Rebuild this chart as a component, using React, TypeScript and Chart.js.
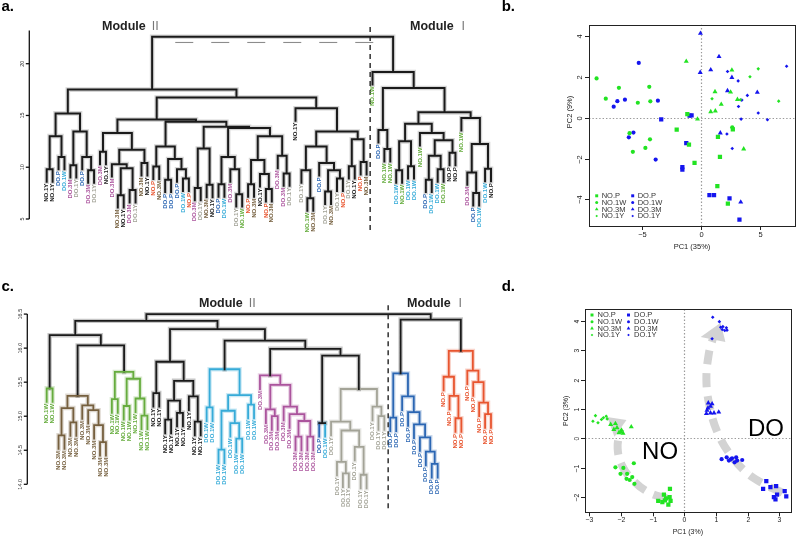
import React, { useEffect, useRef } from 'react';
import { Chart, registerables } from 'chart.js';

Chart.register(...registerables);

const FONT = '"Liberation Sans", Arial, Helvetica, sans-serif';
const CJK_FONT = '"Noto Sans CJK SC", "Noto Sans CJK JP", "DejaVu Sans", sans-serif';

type Tree = number | [number, Tree, Tree];
type Pt = [number, number];

// ---------------- shared colours ----------------
const LINE_BLACK = '#1a1a1a';
const groupColors: Record<string, string> = {
  'NO.P': '#e8552f',
  'NO.1W': '#66ac3e',
  'NO.3M': '#76603f',
  'NO.1Y': '#1a1a1a',
  'DO.P': '#2b66b3',
  'DO.1W': '#36abd8',
  'DO.3M': '#ab549d',
  'DO.1Y': '#a3a397',
};
const PCA_GREEN = '#22e322';
const PCA_BLUE = '#1515ee';
const ARROW_GRAY = '#d3d3d3';

// ---------------- panel a : dendrogram ----------------
const aLabels: string[] = [
  'NO.1Y', 'NO.1Y', 'DO.P', 'DO.1W', 'DO.3M', 'DO.1Y', 'DO.P', 'DO.3M', 'DO.1Y', 'DO.3M',
  'NO.1Y', 'DO.3M', 'NO.3M', 'NO.1Y', 'DO.3M', 'DO.1Y', 'NO.3M', 'NO.1Y', 'NO.P', 'NO.3M',
  'DO.P', 'DO.P', 'DO.P', 'DO.1W', 'NO.P', 'DO.3M', 'DO.1Y', 'NO.3M', 'NO.1Y', 'DO.P',
  'DO.1W', 'DO.3M', 'DO.1Y', 'NO.1W', 'NO.P', 'NO.3M', 'NO.1Y', 'NO.P', 'NO.3M', 'DO.3M',
  'DO.3M', 'DO.1Y', 'NO.1Y', 'DO.1Y', 'NO.1W', 'NO.3M', 'DO.P', 'DO.1Y', 'NO.3M', 'DO.1Y',
  'NO.P', 'DO.1Y', 'NO.1Y', 'NO.P', 'NO.3M',
  'NO.1W', 'DO.P', 'NO.1W', 'NO.1W', 'DO.1W', 'NO.1W', 'DO.1W', 'DO.1W', 'NO.1W', 'DO.P',
  'DO.1W', 'DO.1W', 'DO.1W', 'NO.P', 'NO.P', 'NO.1W', 'DO.3M', 'DO.P', 'DO.1W', 'DO.1W', 'NO.P',
];
const aLabelOverride: Record<number, string> = { 67: '#66ac3e', 68: '#1a1a1a', 69: '#1a1a1a', 75: '#1a1a1a' };

const aClusterL: Tree = [15.2, [13.0, [9.8, 0, 1], [11.0, 2, 3]], [13.45, [10.2, 4, 5], [11.0, 6, [9.7, 7, 8]]]];
const aClusterB: Tree = [13.3, [11.5, 9, 10], [11.7, [10.3, 11, [9.9, [7.3, 12, 13], [7.8, 14, 15]]], [10.4, 16, 17]]];
const aClusterD: Tree = [12.0, [10.06, 18, 19], [10.8, [8.8, 20, 21], [9.8, 22, [8.9, 23, 24]]]];
const aClusterE: Tree = [13.9, [11.8, [8.0, 25, 26], [8.3, 27, 28]], [13.8, [11.0, [8.35, 29, 30], [9.8, 31, [7.4, 32, 33]]], [13.0, [10.7, [8.35, 34, 35], [9.35, 36, [7.9, 37, 38]]], [11.1, 39, [9.4, 40, 41]]]]];
const aClusterR: Tree = [15.7, 42, [13.45, [12.0, [9.7, 43, [7.0, 44, 45]], [10.4, 46, [9.7, [7.65, 47, 48], [8.9, 49, 50]]]], [12.7, [10.1, 51, 52], [10.5, 53, 54]]]];
const aModuleII: Tree = [17.5, aClusterL, [16.74, [14.6, aClusterB, [14.4, aClusterD, aClusterE]], aClusterR]];
const aModIa: Tree = [14.2, [12.5, [9.7, 59, 60], [10.1, 61, 62]], [13.3, 63, [12.6, [11.1, [8.8, 64, 65], [9.8, 66, 67]], [11.4, 68, 69]]]];
const aModIb: Tree = [14.75, 70, [12.25, [9.5, 71, [7.5, 72, 73]], [9.85, 74, 75]]];
const aModuleI: Tree = [19.2, 55, [17.65, [13.6, 56, [11.75, 57, 58]], [15.3, aModIa, aModIb]]];
const aRootHeight = 22.6;
const aTicks = [5, 10, 15, 20];
const aCutHeight = 22.05;

// ---------------- panel c : dendrogram ----------------
const cLabels: string[] = [
  'NO.1W', 'NO.1W',
  'NO.3M', 'NO.3M', 'NO.3M', 'NO.3M', 'NO.3M', 'NO.3M', 'NO.3M', 'NO.3M', 'NO.3M',
  'NO.1W', 'NO.1W', 'NO.1W', 'NO.1W', 'NO.1W', 'NO.1W', 'NO.1W',
  'NO.1Y', 'NO.1Y', 'NO.1Y', 'NO.1Y', 'NO.1Y', 'NO.1Y', 'NO.1Y', 'NO.1Y', 'NO.1Y',
  'DO.1W', 'DO.1W', 'DO.1W', 'DO.1W', 'DO.1W', 'DO.1W', 'DO.1W', 'DO.1W', 'DO.1W',
  'DO.3M', 'DO.3M', 'DO.3M', 'DO.3M', 'DO.3M', 'DO.3M', 'DO.3M', 'DO.3M', 'DO.3M', 'DO.3M',
  'DO.P', 'DO.1W',
  'DO.1Y', 'DO.1Y', 'DO.1Y', 'DO.1Y', 'DO.1Y', 'DO.1Y', 'DO.1Y', 'DO.1Y', 'DO.1Y', 'DO.1Y',
  'DO.P', 'DO.P', 'DO.P', 'DO.P', 'DO.P', 'DO.P', 'DO.P', 'DO.P', 'DO.P',
  'NO.P', 'NO.P', 'NO.P', 'NO.P', 'NO.P', 'NO.P', 'NO.P', 'NO.P', 'NO.P',
];
const cGreenPair: Tree = [15.41, 0, 1];
const cBrown: Tree = [15.30, [15.12, [14.72, 2, 3], [14.91, 4, 5]], [15.16, 6, [15.09, 7, [14.87, 8, [14.62, 9, 10]]]]];
const cGreen: Tree = [15.65, [15.25, 11, 12], [15.55, [15.15, 13, 14], [15.26, 15, [15.01, 16, 17]]]];
const cBlack: Tree = [15.80, [15.34, 18, 19], [15.52, [15.23, [14.95, 20, 21], [15.05, 22, 23]], [15.29, 24, [14.92, 25, 26]]]];
const cCyan: Tree = [15.69, [15.13, 27, 28], [15.31, [15.08, [14.51, 29, 30], [14.90, 31, [14.67, 32, 33]]], [15.17, 34, 35]]];
const cMagenta: Tree = [15.60, 36, [15.46, [15.10, 37, [15.0, 38, 39]], [15.14, 40, [15.03, 41, [14.93, [14.70, 42, 43], [14.70, 44, 45]]]]]];
const cPair: Tree = [14.90, 46, 47];
const cGray: Tree = [15.40, [14.92, 48, [14.79, [14.33, 49, [14.16, 50, 51]], [14.55, 52, [14.14, 53, 54]]]], [15.14, 55, [15.0, 56, 57]]];
const cModuleII: Tree = [16.40, [16.19, cGreenPair, [16.04, cBrown, cGreen]], [16.28, cBlack, [16.11, cCyan, [15.99, cMagenta, [15.89, cPair, cGray]]]]];
const cBlue: Tree = [15.63, [14.98, 58, 59], [15.29, 60, [15.06, 61, [14.88, 62, [14.69, 63, [14.48, 64, [14.30, 65, 66]]]]]]];
const cRed: Tree = [15.96, [15.58, 67, [15.30, 68, [14.97, 69, 70]]], [15.67, 71, [15.50, 72, [15.20, 73, [15.03, 74, 75]]]]];
const cModuleI: Tree = [16.42, cBlue, cRed];
const cRootHeight = 16.5;
const cTicks = [14.0, 14.5, 15.0, 15.5, 16.0, 16.5];

// ---------------- panel b : PCA ----------------
const bNO_P: Pt[] = [[-1.17, 0.18], [-2.07, -0.59], [-1.03, -1.32], [-0.56, -2.21], [1.42, -0.94], [1.59, -1.92], [1.37, -3.35], [2.26, -4.21], [2.68, -0.57]];
const bNO_1W: Pt[] = [[-8.85, 1.92], [-8.07, 0.93], [-6.96, 1.46], [-5.36, 0.73], [-4.39, 1.51], [-4.30, 0.80], [-6.06, -0.76], [-4.33, -1.06], [-4.72, -1.48], [-5.78, -1.67], [2.63, -0.47]];
const bNO_3M: Pt[] = [[-1.26, 2.76], [2.60, 2.33], [1.17, 1.27], [2.49, 1.25], [1.70, 0.65], [3.07, 0.89], [0.81, 0.29], [1.20, 0.33], [-0.31, -0.07], [3.60, -1.53]];
const bNO_1Y: Pt[] = [[4.83, 2.39], [4.13, 2.00], [0.92, 0.93], [6.56, 0.81], [3.32, 0.88]];
const bDO_P: Pt[] = [[-3.38, -0.08], [-0.98, 0.10], [-0.81, 0.11], [-1.26, -1.25], [-1.59, -2.42], [-1.59, -2.54], [0.70, -3.79], [1.09, -3.79], [2.40, -3.95], [3.24, -4.99]];
const bDO_1W: Pt[] = [[-5.28, 2.68], [-7.09, 0.81], [-6.45, 0.88], [-7.40, 0.54], [-3.66, 0.83], [-5.73, -0.73], [-6.12, -0.96], [-3.85, -2.05]];
const bDO_3M: Pt[] = [[-0.06, 4.13], [-0.08, 2.21], [1.51, 2.99], [0.81, 2.34], [2.60, 1.97], [2.23, 1.32], [4.75, 1.24], [1.62, -0.75], [3.35, -4.13]];
const bDO_1Y: Pt[] = [[2.23, 2.26], [3.13, 1.80], [3.44, 0.86], [3.91, 1.09], [3.16, 0.55], [4.83, 0.23], [3.38, -0.07], [5.61, -0.10], [7.23, 2.52], [2.18, -0.80], [2.63, -1.51]];
const bXTicks = [-5, 0, 5];
const bYTicks = [-4, -2, 0, 2, 4];

// ---------------- panel d : PCA ----------------
const dNO_P: Pt[] = [[-0.64, -1.92], [-0.45, -1.72], [-0.82, -2.13], [-0.61, -2.11], [-0.46, -2.00], [-0.43, -2.13], [-0.50, -2.26], [-0.69, -2.17], [-0.57, -2.05]];
const dNO_1W: Pt[] = [[-2.17, -0.99], [-1.92, -1.01], [-1.59, -0.85], [-2.01, -1.21], [-1.80, -1.21], [-1.82, -1.38], [-1.64, -1.32], [-1.57, -1.55], [-1.72, -1.42]];
const dNO_3M: Pt[] = [[-2.32, 0.47], [-2.17, 0.50], [-2.12, 0.36], [-1.98, 0.28], [-2.06, 0.19], [-1.93, 0.17], [-2.22, 0.30], [-1.67, 0.39], [-2.00, 0.22]];
const dNO_1Y: Pt[] = [[-2.80, 0.77], [-2.88, 0.58], [-2.72, 0.53], [-2.61, 0.64], [-2.46, 0.75], [-2.43, 0.66], [-2.55, 0.70]];
const dDO_P: Pt[] = [[2.59, -1.46], [2.49, -1.72], [2.72, -1.66], [2.90, -1.63], [3.17, -1.80], [2.83, -2.00], [2.93, -1.92], [2.88, -2.08], [3.22, -1.98]];
const dDO_1W: Pt[] = [[1.18, -0.71], [1.34, -0.65], [1.41, -0.76], [1.51, -0.68], [1.64, -0.65], [1.67, -0.76], [1.59, -0.82], [1.83, -0.74], [1.47, -0.72]];
const dDO_3M: Pt[] = [[0.76, 1.20], [0.83, 1.09], [0.75, 1.03], [0.88, 1.17], [0.70, 0.84], [0.83, 0.86], [1.09, 0.89], [0.94, 0.86], [0.72, 0.95]];
const dDO_1Y: Pt[] = [[0.90, 4.12], [1.11, 3.97], [1.15, 3.78], [1.20, 3.70], [1.33, 3.76], [1.28, 3.67], [0.88, 3.39], [1.35, 3.68], [1.22, 3.80]];
const dXTicks = [-3, -2, -1, 0, 1, 2, 3];
const dYTicks = [-2, -1, 0, 1, 2, 3, 4];
const dArrowNO: Pt[] = [[-0.55, -2.05], [-1.1, -1.85], [-1.6, -1.45], [-1.95, -0.95], [-2.1, -0.35], [-2.02, 0.3]];
const dArrowNOHead: Pt[] = [[-2.43, 0.72], [-1.82, 0.62], [-2.2, 0.05]];
const dArrowDO: Pt[] = [[3.1, -1.85], [2.5, -1.55], [1.95, -1.15], [1.45, -0.55], [1.05, 0.2], [0.8, 1.1], [0.7, 2.0], [0.78, 2.9], [0.9, 3.38]];
const dArrowDOHead: Pt[] = [[1.15, 3.93], [0.52, 3.45], [1.3, 3.28]];

// ---------------- helpers ----------------
function hexToRgba(hex: string, a: number) {
  const h = hex.replace('#', '');
  const r = parseInt(h.slice(0, 2), 16), g = parseInt(h.slice(2, 4), 16), b = parseInt(h.slice(4, 6), 16);
  return `rgba(${r},${g},${b},${a})`;
}
const fmtTick = (v: number) => (v < 0 ? '\u2212' + Math.abs(v) : String(v));

function layoutTree(tree: Tree, hang: number, nodeColor: (leaves: number[]) => string, leafColor: (i: number) => string) {
  const segs: { pts: Pt[]; color: string }[] = [];
  const leafEnd: number[] = [];
  const rec = (t: Tree): { x: number; leaves: number[] } => {
    if (typeof t === 'number') return { x: t, leaves: [t] };
    const [h, l, r] = t;
    const L = rec(l), R = rec(r);
    const leaves = L.leaves.concat(R.leaves);
    const col = nodeColor(leaves);
    const bot = (c: Tree) => (typeof c === 'number' ? h - hang : c[0]);
    if (typeof l === 'number') leafEnd[l] = h - hang;
    if (typeof r === 'number') leafEnd[r] = h - hang;
    const lc = typeof l === 'number' ? leafColor(l) : col;
    const rc = typeof r === 'number' ? leafColor(r) : col;
    if (lc === col && rc === col) {
      segs.push({ pts: [[L.x, bot(l)], [L.x, h], [R.x, h], [R.x, bot(r)]], color: col });
    } else {
      segs.push({ pts: [[L.x, h], [R.x, h]], color: col });
      segs.push({ pts: [[L.x, bot(l)], [L.x, h]], color: lc });
      segs.push({ pts: [[R.x, h], [R.x, bot(r)]], color: rc });
    }
    return { x: (L.x + R.x) / 2, leaves };
  };
  rec(tree);
  return { segs, leafEnd };
}

interface DendroSpec {
  tree: Tree;
  labels: string[];
  labelColor: (i: number) => string;
  nodeColor: (leaves: number[]) => string;
  leafColor: (i: number) => string;
  hang: number;
  yMin: number; yMax: number;
  lineWidth: number;
  haloAlpha: number;
  ticks: number[];
  tickFmt: (v: number) => string;
  axisX: number; axisFrom: number; axisTo: number;
  divider: { x: number; y0: number; y1: number };
  cut?: { x0: number; x1: number; h: number };
  titles: { x: number; y: number; roman: string }[];
  letter: { text: string; x: number; y: number };
}

const DENDRO_XMIN = -7.883;
const DENDRO_XMAX = 76.52;

function dendroConfig(s: DendroSpec): any {
  const { segs, leafEnd } = layoutTree(s.tree, s.hang, s.nodeColor, s.leafColor);
  const groups = new Map<string, { x: number; y: number }[]>();
  segs.forEach((sg) => {
    if (!groups.has(sg.color)) groups.set(sg.color, []);
    const arr = groups.get(sg.color)!;
    sg.pts.forEach(([x, y]) => arr.push({ x, y }));
    arr.push({ x: NaN, y: NaN });
  });
  const base = {
    showLine: true, pointRadius: 0, pointHoverRadius: 0, spanGaps: false, tension: 0,
    clip: false, fill: false, borderCapStyle: 'square', borderJoinStyle: 'miter',
  };
  const datasets: any[] = [];
  datasets.push({
    ...base, borderCapStyle: 'butt', borderColor: '#222', borderWidth: 1.4, borderDash: [5, 4],
    data: [{ x: s.divider.x, y: s.divider.y0 }, { x: s.divider.x, y: s.divider.y1 }],
  });
  if (s.cut) {
    datasets.push({
      ...base, borderCapStyle: 'butt', borderColor: '#8c8c8c', borderWidth: 1.1, borderDash: [18, 18],
      data: [{ x: s.cut.x0, y: s.cut.h }, { x: s.cut.x1, y: s.cut.h }],
    });
  }
  groups.forEach((data, color) => datasets.push({ ...base, data, borderColor: color, borderWidth: s.lineWidth }));
  groups.forEach((data, color) =>
    datasets.push({ ...base, data, borderColor: hexToRgba(color, s.haloAlpha), borderWidth: s.lineWidth + 2.6 }));

  const decor = {
    id: 'dendroDecor',
    afterDatasetsDraw(chart: any) {
      const ctx = chart.ctx as CanvasRenderingContext2D;
      const xs = chart.scales.x, ys = chart.scales.y;
      ctx.save();
      // axis
      ctx.strokeStyle = '#111';
      ctx.lineWidth = 1.3;
      ctx.beginPath();
      ctx.moveTo(s.axisX, ys.getPixelForValue(s.axisFrom));
      ctx.lineTo(s.axisX, ys.getPixelForValue(s.axisTo));
      ctx.stroke();
      ctx.font = `5.5px ${FONT}`;
      ctx.fillStyle = '#333';
      s.ticks.forEach((t) => {
        const y = ys.getPixelForValue(t);
        ctx.beginPath();
        ctx.moveTo(s.axisX, y);
        ctx.lineTo(s.axisX - 3.5, y);
        ctx.stroke();
        ctx.save();
        ctx.translate(s.axisX - 7, y);
        ctx.rotate(-Math.PI / 2);
        ctx.textAlign = 'center';
        ctx.textBaseline = 'middle';
        ctx.fillText(s.tickFmt(t), 0, 0);
        ctx.restore();
      });
      // leaf labels
      ctx.font = `bold 6px ${FONT}`;
      s.labels.forEach((lab, i) => {
        const x = xs.getPixelForValue(i);
        const y = ys.getPixelForValue(leafEnd[i]) + 2;
        ctx.save();
        ctx.translate(x, y);
        ctx.rotate(-Math.PI / 2);
        ctx.textAlign = 'right';
        ctx.textBaseline = 'middle';
        ctx.fillStyle = s.labelColor(i);
        ctx.fillText(lab, 0, 0);
        ctx.restore();
      });
      // module titles
      s.titles.forEach((t) => {
        ctx.font = `bold 12.5px ${FONT}`;
        ctx.fillStyle = '#222';
        ctx.textAlign = 'left';
        ctx.textBaseline = 'alphabetic';
        ctx.fillText('Module', t.x, t.y);
        const w = ctx.measureText('Module ').width;
        ctx.font = `12px ${CJK_FONT}`;
        ctx.fillStyle = '#777';
        ctx.fillText(t.roman, t.x + w, t.y);
      });
      // panel letter
      ctx.font = `bold 15px ${FONT}`;
      ctx.fillStyle = '#000';
      ctx.textAlign = 'left';
      ctx.textBaseline = 'alphabetic';
      ctx.fillText(s.letter.text, s.letter.x, s.letter.y);
      ctx.restore();
    },
  };

  return {
    type: 'scatter',
    data: { datasets },
    options: {
      animation: false,
      responsive: false,
      devicePixelRatio: 1,
      events: [],
      layout: { padding: 0 },
      plugins: { legend: { display: false }, tooltip: { enabled: false } },
      scales: {
        x: { type: 'linear', display: false, min: DENDRO_XMIN, max: DENDRO_XMAX },
        y: { type: 'linear', display: false, min: s.yMin, max: s.yMax },
      },
    },
    plugins: [decor],
  };
}

type MarkStyle = 'rect' | 'circle' | 'triangle' | 'rectRot';
interface PcaGroup { label: string; pts: Pt[]; color: string; style: MarkStyle; r: number; lr: number }

function drawMark(ctx: CanvasRenderingContext2D, style: MarkStyle, x: number, y: number, r: number) {
  ctx.beginPath();
  if (style === 'rect') {
    const h = r * Math.SQRT1_2;
    ctx.rect(x - h, y - h, 2 * h, 2 * h);
  } else if (style === 'circle') {
    ctx.arc(x, y, r, 0, Math.PI * 2);
  } else if (style === 'triangle') {
    ctx.moveTo(x, y - r);
    ctx.lineTo(x + r * 0.866, y + r * 0.5);
    ctx.lineTo(x - r * 0.866, y + r * 0.5);
    ctx.closePath();
  } else {
    ctx.moveTo(x - r, y);
    ctx.lineTo(x, y - r);
    ctx.lineTo(x + r, y);
    ctx.lineTo(x, y + r);
    ctx.closePath();
  }
  ctx.fill();
}

interface PcaSpec {
  groups: PcaGroup[];
  padding: { left: number; right: number; top: number; bottom: number };
  xMin: number; xMax: number; yMin: number; yMax: number;
  xTicks: number[]; yTicks: number[];
  tickFont: number; titleFont: number;
  xTickOff: number; yTickOff: number;
  xTitle: string; xTitleOff: number;
  yTitle: string; yTitleOff: number; yTitleY?: number;
  legend: { cols: number[]; textCols: number[]; rows: number[]; font: number };
  letter: { text: string; x: number; y: number };
  arrows?: { path: Pt[]; head: Pt[] }[];
  bigTexts?: { text: string; x: number; y: number }[];
}

function pcaConfig(s: PcaSpec): any {
  const datasets: any[] = s.groups.map((g) => ({
    label: g.label,
    data: g.pts.map(([x, y]) => ({ x, y })),
    pointStyle: g.style,
    pointRadius: g.r,
    pointHoverRadius: g.r,
    backgroundColor: g.color,
    borderColor: g.color,
    borderWidth: 0,
    showLine: false,
  }));
  (s.arrows || []).forEach((a) => {
    datasets.push({
      data: a.path.map(([x, y]) => ({ x, y })),
      showLine: true, pointRadius: 0, pointHoverRadius: 0, tension: 0.4,
      borderColor: ARROW_GRAY, borderWidth: 8, borderDash: [14, 9], borderCapStyle: 'butt', fill: false,
    });
  });

  const decor = {
    id: 'pcaDecor',
    beforeDatasetsDraw(chart: any) {
      const ctx = chart.ctx as CanvasRenderingContext2D;
      const a = chart.chartArea, xs = chart.scales.x, ys = chart.scales.y;
      ctx.save();
      ctx.strokeStyle = '#9a9a9a';
      ctx.lineWidth = 1.2;
      ctx.setLineDash([1.4, 2]);
      const x0 = Math.round(xs.getPixelForValue(0)) + 0.5, y0 = Math.round(ys.getPixelForValue(0)) + 0.5;
      ctx.beginPath();
      ctx.moveTo(x0, a.top); ctx.lineTo(x0, a.bottom);
      ctx.moveTo(a.left, y0); ctx.lineTo(a.right, y0);
      ctx.stroke();
      ctx.setLineDash([]);
      ctx.fillStyle = ARROW_GRAY;
      (s.arrows || []).forEach((ar) => {
        ctx.beginPath();
        ar.head.forEach(([x, y], k) => {
          const px = xs.getPixelForValue(x), py = ys.getPixelForValue(y);
          if (k === 0) ctx.moveTo(px, py); else ctx.lineTo(px, py);
        });
        ctx.closePath();
        ctx.fill();
      });
      ctx.restore();
    },
    afterDraw(chart: any) {
      const ctx = chart.ctx as CanvasRenderingContext2D;
      const a = chart.chartArea, xs = chart.scales.x, ys = chart.scales.y;
      ctx.save();
      ctx.strokeStyle = '#222';
      ctx.lineWidth = 1;
      ctx.strokeRect(Math.round(a.left) + 0.5, Math.round(a.top) + 0.5, Math.round(a.right - a.left), Math.round(a.bottom - a.top));
      ctx.fillStyle = '#222';
      ctx.font = `${s.tickFont}px ${FONT}`;
      s.xTicks.forEach((t) => {
        const x = Math.round(xs.getPixelForValue(t)) + 0.5;
        ctx.beginPath(); ctx.moveTo(x, a.bottom); ctx.lineTo(x, a.bottom + 4); ctx.stroke();
        ctx.textAlign = 'center'; ctx.textBaseline = 'middle';
        ctx.fillText(fmtTick(t), x, a.bottom + s.xTickOff);
      });
      s.yTicks.forEach((t) => {
        const y = Math.round(ys.getPixelForValue(t)) + 0.5;
        ctx.beginPath(); ctx.moveTo(a.left, y); ctx.lineTo(a.left - 4, y); ctx.stroke();
        ctx.save();
        ctx.translate(a.left - s.yTickOff, y);
        ctx.rotate(-Math.PI / 2);
        ctx.textAlign = 'center'; ctx.textBaseline = 'middle';
        ctx.fillText(fmtTick(t), 0, 0);
        ctx.restore();
      });
      ctx.font = `${s.titleFont}px ${FONT}`;
      ctx.textAlign = 'center'; ctx.textBaseline = 'middle';
      ctx.fillText(s.xTitle, (a.left + a.right) / 2, a.bottom + s.xTitleOff);
      ctx.save();
      ctx.translate(a.left - s.yTitleOff, s.yTitleY ?? (a.top + a.bottom) / 2);
      ctx.rotate(-Math.PI / 2);
      ctx.fillText(s.yTitle, 0, 0);
      ctx.restore();
      // legend
      ctx.font = `${s.legend.font}px ${FONT}`;
      ctx.textAlign = 'left'; ctx.textBaseline = 'middle';
      s.groups.forEach((g, i) => {
        const col = i < 4 ? 0 : 1;
        const row = i % 4;
        ctx.fillStyle = g.color;
        drawMark(ctx, g.style, s.legend.cols[col], s.legend.rows[row], g.lr);
        ctx.fillStyle = '#333';
        ctx.fillText(g.label, s.legend.textCols[col], s.legend.rows[row] + 0.3);
      });
      // big texts
      (s.bigTexts || []).forEach((t) => {
        ctx.font = `24px ${FONT}`;
        ctx.fillStyle = '#000';
        ctx.textAlign = 'left'; ctx.textBaseline = 'alphabetic';
        ctx.fillText(t.text, xs.getPixelForValue(t.x), ys.getPixelForValue(t.y));
      });
      ctx.font = `bold 15px ${FONT}`;
      ctx.fillStyle = '#000';
      ctx.textAlign = 'left'; ctx.textBaseline = 'alphabetic';
      ctx.fillText(s.letter.text, s.letter.x, s.letter.y);
      ctx.restore();
    },
  };

  return {
    type: 'scatter',
    data: { datasets },
    options: {
      animation: false,
      responsive: false,
      devicePixelRatio: 1,
      events: [],
      layout: { padding: s.padding },
      plugins: { legend: { display: false }, tooltip: { enabled: false } },
      scales: {
        x: { type: 'linear', display: false, min: s.xMin, max: s.xMax },
        y: { type: 'linear', display: false, min: s.yMin, max: s.yMax },
      },
    },
    plugins: [decor],
  };
}

function pcaGroups(noP: Pt[], no1W: Pt[], no3M: Pt[], no1Y: Pt[], doP: Pt[], do1W: Pt[], do3M: Pt[], do1Y: Pt[]): PcaGroup[] {
  return [
    { label: 'NO.P', pts: noP, color: PCA_GREEN, style: 'rect', r: 3.0, lr: 2.1 },
    { label: 'NO.1W', pts: no1W, color: PCA_GREEN, style: 'circle', r: 2.1, lr: 1.5 },
    { label: 'NO.3M', pts: no3M, color: PCA_GREEN, style: 'triangle', r: 2.9, lr: 2.1 },
    { label: 'NO.1Y', pts: no1Y, color: PCA_GREEN, style: 'rectRot', r: 1.8, lr: 1.3 },
    { label: 'DO.P', pts: doP, color: PCA_BLUE, style: 'rect', r: 3.0, lr: 2.1 },
    { label: 'DO.1W', pts: do1W, color: PCA_BLUE, style: 'circle', r: 2.1, lr: 1.5 },
    { label: 'DO.3M', pts: do3M, color: PCA_BLUE, style: 'triangle', r: 2.9, lr: 2.1 },
    { label: 'DO.1Y', pts: do1Y, color: PCA_BLUE, style: 'rectRot', r: 1.8, lr: 1.3 },
  ];
}

export default function App() {
  const aRef = useRef<HTMLCanvasElement>(null);
  const bRef = useRef<HTMLCanvasElement>(null);
  const cRef = useRef<HTMLCanvasElement>(null);
  const dRef = useRef<HTMLCanvasElement>(null);

  useEffect(() => {
    const cNodeColor = (leaves: number[]) => {
      const g = cLabels[leaves[0]];
      return leaves.every((i) => cLabels[i] === g) ? groupColors[g] : LINE_BLACK;
    };
    const charts: Chart[] = [];
    charts.push(new Chart(aRef.current!, dendroConfig({
      tree: [aRootHeight, aModuleII, aModuleI],
      labels: aLabels,
      labelColor: (i) => aLabelOverride[i] ?? groupColors[aLabels[i]],
      nodeColor: () => LINE_BLACK,
      leafColor: () => LINE_BLACK,
      hang: 1.2,
      yMin: 0.267, yMax: 26.153,
      lineWidth: 2,
      haloAlpha: 0.18,
      ticks: aTicks,
      tickFmt: (v) => String(v),
      axisX: 29.3, axisFrom: 5, axisTo: 23.2,
      divider: { x: 54.6, y0: 3.94, y1: 23.74 },
      cut: { x0: 21.7, x1: 56.8, h: aCutHeight },
      titles: [{ x: 102, y: 29.5, roman: '\u2161' }, { x: 410, y: 29.5, roman: '\u2160' }],
      letter: { text: 'a.', x: 1.5, y: 10.7 },
    })));
    charts.push(new Chart(cRef.current!, dendroConfig({
      tree: [cRootHeight, cModuleII, cModuleI],
      labels: cLabels,
      labelColor: (i) => groupColors[cLabels[i]],
      nodeColor: cNodeColor,
      leafColor: (i) => groupColors[cLabels[i]],
      hang: 0.2,
      yMin: 13.226, yMax: 17.177,
      lineWidth: 1.8,
      haloAlpha: 0.25,
      ticks: cTicks,
      tickFmt: (v) => v.toFixed(1),
      axisX: 27.3, axisFrom: 14, axisTo: 16.5,
      divider: { x: 57.64, y0: 13.65, y1: 16.68 },
      titles: [{ x: 199, y: 39.3, roman: '\u2161' }, { x: 407, y: 39, roman: '\u2160' }],
      letter: { text: 'c.', x: 1.5, y: 22.7 },
    })));
    charts.push(new Chart(bRef.current!, pcaConfig({
      groups: pcaGroups(bNO_P, bNO_1W, bNO_3M, bNO_1Y, bDO_P, bDO_1W, bDO_3M, bDO_1Y).reverse().slice(0).reverse(),
      padding: { left: 89, right: 2, top: 24.7, bottom: 42 },
      xMin: -9.49, xMax: 7.94, yMin: -5.30, yMax: 4.55,
      xTicks: bXTicks, yTicks: bYTicks,
      tickFont: 7.5, titleFont: 7.5,
      xTickOff: 9, yTickOff: 9,
      xTitle: 'PC1 (35%)', xTitleOff: 21,
      yTitle: 'PC2 (9%)', yTitleOff: 19, yTitleY: 112,
      legend: { cols: [96.7, 132.7], textCols: [101.7, 137.7], rows: [195.8, 202.5, 209.3, 216], font: 7.5 },
      letter: { text: 'b.', x: 1.7, y: 10.7 },
    })));
    charts.push(new Chart(dRef.current!, pcaConfig({
      groups: pcaGroups(dNO_P, dNO_1W, dNO_3M, dNO_1Y, dDO_P, dDO_1W, dDO_3M, dDO_1Y),
      padding: { left: 85, right: 7.3, top: 41.3, bottom: 24.7 },
      xMin: -3.13, xMax: 3.36, yMin: -2.52, yMax: 4.39,
      xTicks: dXTicks, yTicks: dYTicks,
      tickFont: 6.8, titleFont: 7,
      xTickOff: 7.7, yTickOff: 8.3,
      xTitle: 'PC1 (3%)', xTitleOff: 19.4,
      yTitle: 'PC2 (3%)', yTitleOff: 19.3,
      legend: { cols: [92, 128.5], textCols: [97.5, 134], rows: [47, 53.7, 60.4, 67], font: 7.5 },
      letter: { text: 'd.', x: 1.7, y: 22.7 },
      arrows: [{ path: dArrowNO, head: dArrowNOHead }, { path: dArrowDO, head: dArrowDOHead }],
      bigTexts: [{ text: 'NO', x: -1.33, y: -0.69 }, { text: 'DO', x: 2.01, y: 0.085 }],
    })));
    return () => charts.forEach((c) => c.destroy());
  }, []);

  const cv = (left: number, top: number, w: number, h: number): React.CSSProperties => ({
    position: 'absolute', left, top, width: w, height: h,
  });

  return (
    <div style={{ position: 'fixed', left: 0, top: 0, width: 798, height: 537, background: '#fff', overflow: 'hidden' }}>
      <canvas ref={aRef} width={500} height={268} style={cv(0, 0, 500, 268)} />
      <canvas ref={bRef} width={298} height={268} style={cv(500, 0, 298, 268)} />
      <canvas ref={cRef} width={500} height={269} style={cv(0, 268, 500, 269)} />
      <canvas ref={dRef} width={298} height={269} style={cv(500, 268, 298, 269)} />
    </div>
  );
}
